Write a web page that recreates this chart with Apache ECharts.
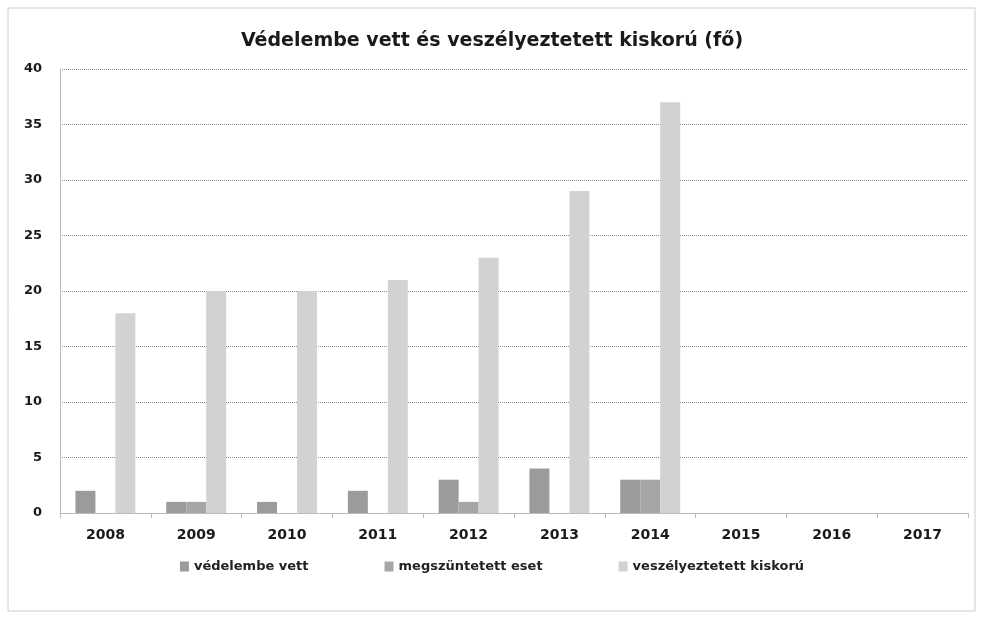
<!DOCTYPE html>
<html>
<head>
<meta charset="utf-8">
<script src="https://cdn.jsdelivr.net/npm/echarts@6/dist/echarts.min.js"></script>
<style>
  html, body { margin: 0; padding: 0; background: #fff; }
  #chart { width: 984px; height: 620px; }
</style>
</head>
<body>
<div id="chart"></div>
<script>
const years = ["2008", "2009", "2010", "2011", "2012", "2013", "2014", "2015", "2016", "2017"];
const vedelembeVett = [2, 1, 1, 2, 3, 4, 3, 0, 0, 0];
const megszuntetett = [0, 1, 0, 0, 1, 0, 3, 0, 0, 0];
const veszelyeztetett = [18, 20, 20, 21, 23, 29, 37, 0, 0, 0];

const font = "DejaVu Sans";
let myChart = echarts.init(document.getElementById("chart"));

const option = {
  backgroundColor: "#fff",
  title: {
    text: "Védelembe vett és veszélyeztetett kiskorú (fő)",
    left: "center",
    top: 27,
    textStyle: { fontFamily: font, fontSize: 19, fontWeight: "bold", color: "#1a1a1a" },
  },
  legend: {
    bottom: 42,
    left: "center",
    itemWidth: 9,
    itemHeight: 10,
    itemGap: 76,
    icon: "rect",
    textStyle: { fontFamily: font, fontSize: 13, fontWeight: "bold", color: "#222" },
  },
  grid: { left: 60, right: 16, top: 69, bottom: 107 },
  xAxis: {
    type: "category",
    data: years,
    axisLine: { lineStyle: { color: "#bbb" } },
    axisTick: { show: true, alignWithLabel: false, length: 5, lineStyle: { color: "#bbb" } },
    axisLabel: { fontFamily: font, fontSize: 14, fontWeight: "bold", color: "#1a1a1a", margin: 15 },
  },
  yAxis: {
    type: "value",
    min: 0,
    max: 40,
    interval: 5,
    axisLine: { show: true, lineStyle: { color: "#bbb" } },
    axisLabel: { fontFamily: font, fontSize: 13, fontWeight: "bold", color: "#1a1a1a", margin: 18 },
    splitLine: { lineStyle: { color: "#888", type: "dotted", width: 1 } },
  },
  series: [
    {
      name: "védelembe vett",
      type: "bar",
      data: vedelembeVett,
      barGap: "0%",
      barCategoryGap: "34%",
      itemStyle: { color: "#9b9b9b" },
    },
    {
      name: "megszüntetett eset",
      type: "bar",
      data: megszuntetett,
      itemStyle: { color: "#a6a6a6" },
    },
    {
      name: "veszélyeztetett kiskorú",
      type: "bar",
      data: veszelyeztetett,
      itemStyle: { color: "#d2d2d2" },
    },
  ],
  graphic: [
    {
      type: "rect",
      shape: { x: 8, y: 8, width: 967, height: 603 },
      style: { fill: "none", stroke: "#ccc", lineWidth: 1 },
      silent: true,
    },
  ],
};

option && myChart.setOption(option);
</script>
</body>
</html>
